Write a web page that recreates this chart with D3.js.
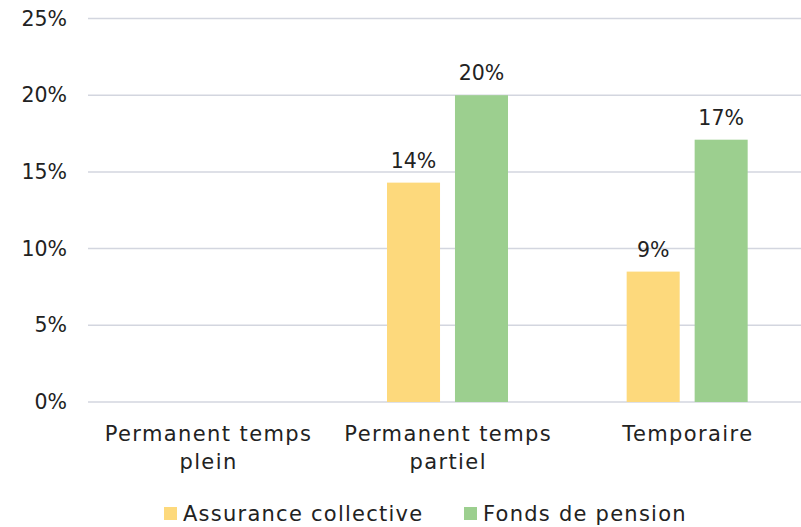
<!DOCTYPE html>
<html>
<head>
<meta charset="utf-8">
<script src="https://cdn.jsdelivr.net/npm/d3@7"></script>
<style>
  body { margin: 0; background: #fff; }
  svg { display: block; font-family: "DejaVu Sans", sans-serif; }
</style>
</head>
<body>
<svg id="chart" width="801" height="527"></svg>
<script>
// data
var categories = [["Permanent temps", "plein"], ["Permanent temps", "partiel"], ["Temporaire"]];
var series = ["Assurance collective", "Fonds de pension"];
var assurance = [null, 14.3, 8.5];
var pension = [null, 20, 17.1];
var valueLabels = [[null, "14%", "9%"], [null, "20%", "17%"]];
var yTicks = [0, 5, 10, 15, 20, 25];
var colors = ["#FDD97C", "#9CCF8F"];

var FS = 20.5;
var svg = d3.select("#chart");
var catKeys = categories.map(function (c) { return c.join(" "); });

var x0 = d3.scaleBand().domain(catKeys).range([88, 807]);
var x1 = d3.scaleBand().domain(series)
  .range([x0.bandwidth() / 2 - 60.5, x0.bandwidth() / 2 + 60.5])
  .paddingInner(0.22);
var y = d3.scaleLinear().domain([0, 25]).range([402, 18.5]);

// grid
svg.append("g").selectAll("line").data(yTicks).enter().append("line")
  .attr("x1", 88).attr("x2", 801)
  .attr("y1", function (d) { return y(d); })
  .attr("y2", function (d) { return y(d); })
  .attr("stroke", "#D3D6DF").attr("stroke-width", 1.5);

// y labels
var yAxis = d3.axisLeft(y).tickValues(yTicks).tickSize(0).tickPadding(0)
  .tickFormat(function (d) { return d + "%"; });
var ya = svg.append("g").attr("transform", "translate(67,0)").call(yAxis);
ya.select(".domain").remove();
ya.selectAll("text").attr("font-size", FS).attr("fill", "#222")
  .attr("font-family", "DejaVu Sans, sans-serif");

// bars
var allValues = [assurance, pension];
var groups = svg.append("g").selectAll("g").data(series).enter().append("g")
  .attr("fill", function (d, i) { return colors[i]; });

groups.each(function (s, si) {
  var g = d3.select(this);
  var data = allValues[si].map(function (v, ci) { return { cat: catKeys[ci], v: v, label: valueLabels[si][ci] }; })
    .filter(function (d) { return d.v != null; });
  g.selectAll("rect").data(data).enter().append("rect")
    .attr("x", function (d) { return x0(d.cat) + x1(s); })
    .attr("width", x1.bandwidth())
    .attr("y", function (d) { return y(d.v); })
    .attr("height", function (d) { return y(0) - y(d.v); });
  g.selectAll("text").data(data).enter().append("text")
    .attr("x", function (d) { return x0(d.cat) + x1(s) + x1.bandwidth() / 2; })
    .attr("y", function (d) { return y(d.v) - 15; })
    .attr("text-anchor", "middle")
    .attr("font-size", FS).attr("fill", "#222")
    .text(function (d) { return d.label; });
});

// x labels (letter spacing to get closer to the wide original font)
var xl = svg.append("g").selectAll("text").data(categories).enter().append("text")
  .attr("x", function (d, i) { return x0(catKeys[i]) + x0.bandwidth() / 2 + 0.7; })
  .attr("y", 441)
  .attr("text-anchor", "middle")
  .attr("letter-spacing", 1.4)
  .attr("font-size", 21).attr("fill", "#222");
xl.selectAll("tspan").data(function (d) { return d; }).enter().append("tspan")
  .attr("x", function () { return d3.select(this.parentNode).attr("x"); })
  .attr("dy", function (d, i) { return i ? 28 : 0; })
  .text(function (d) { return d; });

// legend
var legendX = [164, 464];
var lg = svg.append("g").selectAll("g").data(series).enter().append("g")
  .attr("transform", function (d, i) { return "translate(" + legendX[i] + ",507)"; });
lg.append("rect").attr("width", 13).attr("height", 13)
  .attr("fill", function (d, i) { return colors[i]; });
lg.append("text").attr("x", 19).attr("y", 13.5)
  .attr("font-size", 21).attr("fill", "#222")
  .attr("letter-spacing", 1.25)
  .text(function (d) { return d; });
</script>
</body>
</html>
